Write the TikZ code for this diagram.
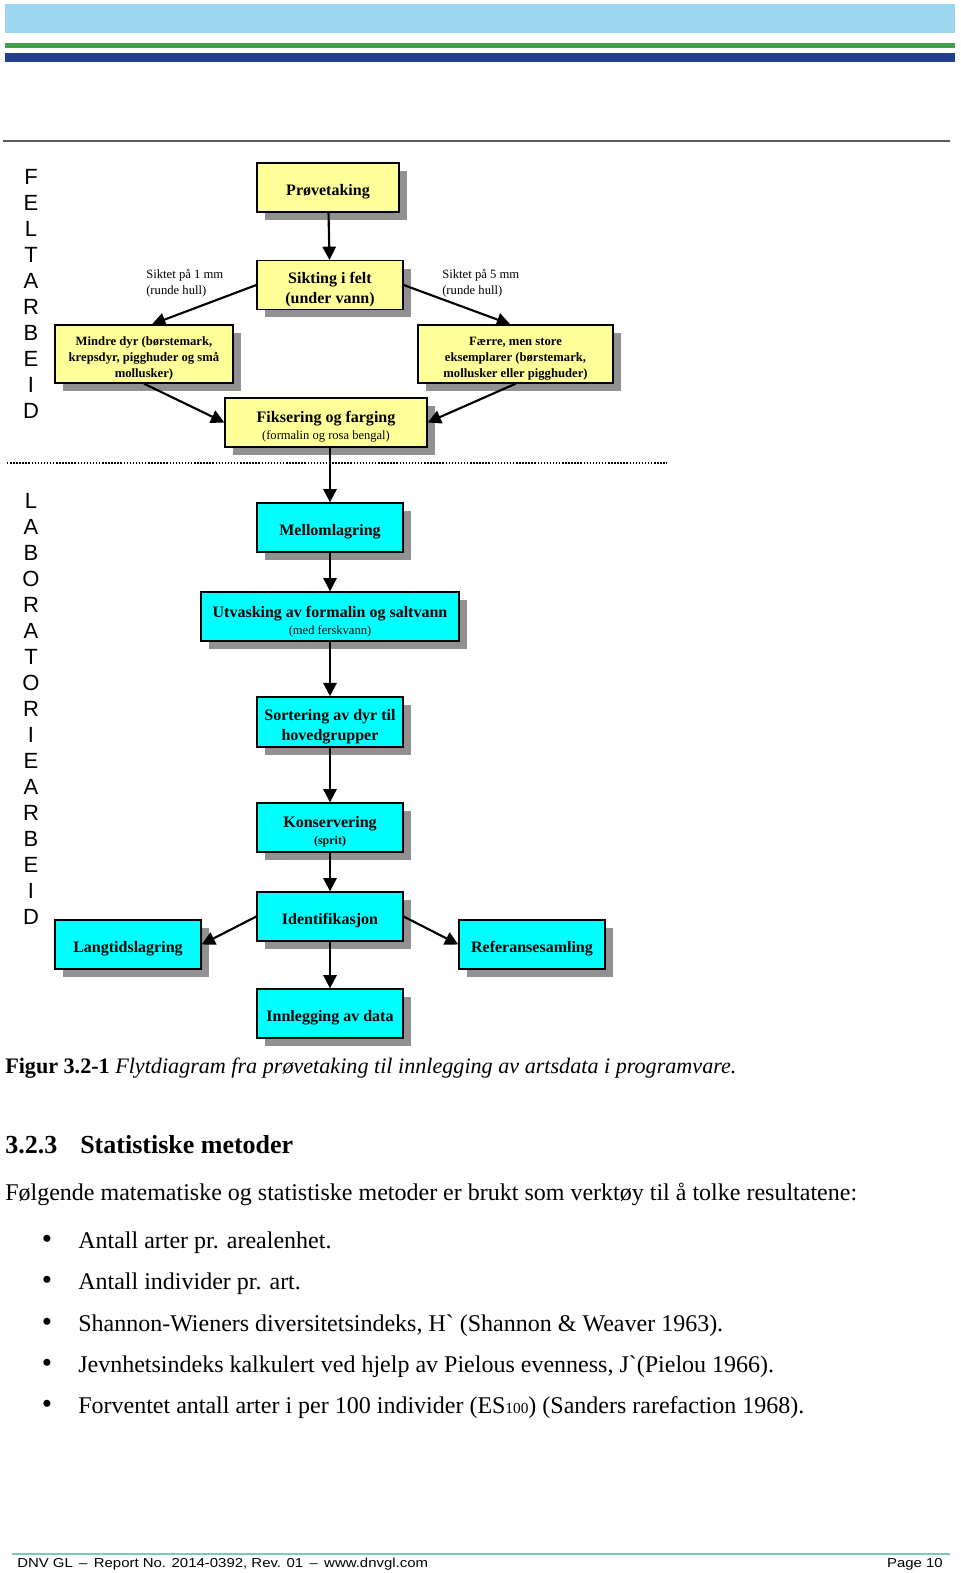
\documentclass[tikz,border=0pt]{standalone}
\usepackage{fontspec}
\newfontfamily\timesfont{Liberation Serif}
\newfontfamily\arialfont{Liberation Sans}
\newfontfamily\footfont[FakeStretch=1.15]{Liberation Sans}
\usetikzlibrary{arrows.meta,shadows}

\definecolor{topBlue}{RGB}{157,214,240}
\definecolor{stripeGreen}{RGB}{64,160,74}
\definecolor{stripeNavy}{RGB}{35,62,138}
\definecolor{ruleGray}{RGB}{90,90,90}
\definecolor{feltYellow}{RGB}{255,255,153}
\definecolor{labCyan}{RGB}{0,255,255}
\definecolor{shadowGray}{RGB}{145,145,145}
\definecolor{footTeal}{RGB}{125,200,190}

\tikzstyle{myBox} = [draw=black, line width=1pt, rectangle, align=center,
    inner sep=2pt, minimum width=109.5pt, minimum height=36.75pt,
    font=\timesfont\bfseries\fontsize{12}{15}\selectfont,
    execute at begin node={\rule{0pt}{15pt}},
    drop shadow={shadow xshift=6pt, shadow yshift=-6pt, opacity=1, fill=shadowGray}]
\tikzstyle{myFelt} = [myBox, fill=feltYellow]
\tikzstyle{myLab} = [myBox, fill=labCyan]
\tikzstyle{myArrow} = [line width=1.6pt, -{Triangle[length=10pt,width=10pt]}]
\tikzstyle{myLetter} = [inner sep=0pt, font=\arialfont\fontsize{16.5}{16.5}\selectfont]
\tikzstyle{myNote} = [inner sep=0pt, align=left, anchor=west,
    font=\timesfont\fontsize{9.5}{12}\selectfont]
\tikzstyle{myText} = [inner sep=0pt, anchor=base west,
    font=\timesfont\fontsize{18}{21}\selectfont]

\newcommand{\smalltxt}[1]{{\fontsize{9.4}{11}\mdseries\selectfont #1}}
\newcommand{\topfix}[1][15pt]{\rule{0pt}{#1}}

\begin{document}
\begin{tikzpicture}[x=0.75pt,y=-0.75pt]
\useasboundingbox (0,0) rectangle (960,1573);

% page head
\fill[topBlue] (5,4) rectangle (955,33);
\fill[stripeGreen] (5,43) rectangle (955,48);
\fill[stripeNavy] (5,53) rectangle (955,62);
\draw[ruleGray, line width=1.5pt] (3,141) -- (950,141);

% side letters
\foreach \ch [count=\i] in {F,E,L,T,A,R,B,E,I,D}
  \node[myLetter] (Felt\i) at (31,{177+26*(\i-1)}) {\ch};
\foreach \ch [count=\i] in {L,A,B,O,R,A,T,O,R,I,E,A,R,B,E,I,D}
  \node[myLetter] (Lab\i) at (31,{501+26*(\i-1)}) {\ch};

% feltarbeid
\node[myFelt, minimum width=106.5pt] (Provetaking) at (328,187.5) {Prøvetaking};
\node[myFelt, minimum height=36pt] (Sikting) at (330,285) {\topfix Sikting i felt\\(under vann)};
\node[myFelt, minimum width=133.5pt, minimum height=42pt,
    font=\timesfont\bfseries\fontsize{9.5}{12}\selectfont] (MindreDyr) at (144,354)
    {\topfix[13.5pt]Mindre dyr (børstemark,\\krepsdyr, pigghuder og små\\mollusker)};
\node[myFelt, minimum width=146.25pt, minimum height=42pt,
    font=\timesfont\bfseries\fontsize{9.5}{12}\selectfont] (Faerre) at (515.5,354)
    {\topfix[13.5pt]Færre, men store\\eksemplarer (børstemark,\\mollusker eller pigghuder)};
\node[myFelt, minimum width=151.5pt] (Fiksering) at (326,422.5)
    {\topfix Fiksering og farging\\[-2.3pt]\smalltxt{(formalin og rosa bengal)}};

\node[myNote] (SiktEn) at (146,283) {Siktet på 1 mm\\(runde hull)};
\node[myNote] (SiktFem) at (442,283) {Siktet på 5 mm\\(runde hull)};

\draw[myArrow] (Provetaking) -- (Sikting);
\draw[myArrow] (Sikting.west) -- ([xshift=6pt]MindreDyr.north);
\draw[myArrow] (Sikting.east) -- ([xshift=-4pt]Faerre.north);
\draw[myArrow] (MindreDyr.south) -- (Fiksering.west);
\draw[myArrow] (Faerre.south) -- (Fiksering.east);

\draw[line width=1.1pt, dash pattern=on 1.1pt off 1.2pt] (7,463) -- (667,463);

% laboratoriearbeid
\node[myLab] (Mellomlagring) at (330,527.5) {Mellomlagring};
\node[myLab, minimum width=193.5pt] (Utvasking) at (330,616.5)
    {\topfix[16pt]Utvasking av formalin og saltvann\\[-2.3pt]\smalltxt{(med ferskvann)}};
\node[myLab, minimum height=37.5pt] (Sortering) at (330,722)
    {\topfix[16pt]Sortering av dyr til\\hovedgrupper};
\node[myLab] (Konservering) at (330,827.5)
    {\topfix Konservering\\[-2.3pt]{\fontsize{9}{11}\selectfont (sprit)}};
\node[myLab] (Identifikasjon) at (330,916.5) {Identifikasjon};
\node[myLab] (Langtid) at (128,944.5) {Langtidslagring};
\node[myLab] (Referanse) at (532,944.5) {Referansesamling};
\node[myLab] (Innlegging) at (330,1013.5) {Innlegging av data};

\draw[myArrow] (Fiksering.south -| Mellomlagring.north) -- (Mellomlagring.north);
\draw[myArrow] (Mellomlagring) -- (Utvasking);
\draw[myArrow] (Utvasking) -- (Sortering);
\draw[myArrow] (Sortering) -- (Konservering);
\draw[myArrow] (Konservering) -- (Identifikasjon);
\draw[myArrow] (Identifikasjon.west) -- (Langtid.east);
\draw[myArrow] (Identifikasjon.east) -- (Referanse.west);
\draw[myArrow] (Identifikasjon) -- (Innlegging);

% text below
\node[myText, font=\timesfont\fontsize{16.6}{20}\selectfont] (Caption) at (5,1073)
    {\textbf{Figur 3.2-1} \textit{Flytdiagram fra prøvetaking til innlegging av artsdata i programvare.}};
\node[myText, font=\timesfont\bfseries\fontsize{19.5}{22}\selectfont] (HeadNum) at (5,1153) {3.2.3};
\node[myText, font=\timesfont\bfseries\fontsize{19.5}{22}\selectfont] (HeadText) at (80,1153) {Statistiske metoder};
\node[myText] (Intro) at (5,1200)
    {Følgende matematiske og statistiske metoder er brukt som verktøy til å tolke resultatene:};
\foreach \i/\yy in {1/1248,2/1289,3/1331,4/1372,5/1413}
  \node[myText, anchor=base, font=\timesfont\fontsize{22}{22}\selectfont] (Bullet\i) at (47,\yy) {•};
\node[myText] (Item1) at (78,1248) {Antall arter pr. arealenhet.};
\node[myText] (Item2) at (78,1289) {Antall individer pr. art.};
\node[myText] (Item3) at (78,1331) {Shannon-Wieners diversitetsindeks, H\textasciigrave{} (Shannon \& Weaver 1963).};
\node[myText] (Item4) at (78,1372) {Jevnhetsindeks kalkulert ved hjelp av Pielous evenness, J\textasciigrave(Pielou 1966).};
\node[myText] (Item5) at (78,1413) {Forventet antall arter i per 100 individer (ES{\fontsize{11.5}{13}\selectfont 100}) (Sanders rarefaction 1968).};

% footer
\draw[footTeal, line width=0.8pt] (12,1554) -- (950,1554);
\node[myText, font=\footfont\fontsize{9.75}{12}\selectfont] (FootLeft) at (17,1567)
    {DNV GL \,–\, Report No. 2014-0392, Rev. 01 \,–\, www.dnvgl.com};
\node[myText, anchor=base east, font=\footfont\fontsize{9.75}{12}\selectfont] (FootPage) at (943,1567) {Page 10};
\end{tikzpicture}
\end{document}
